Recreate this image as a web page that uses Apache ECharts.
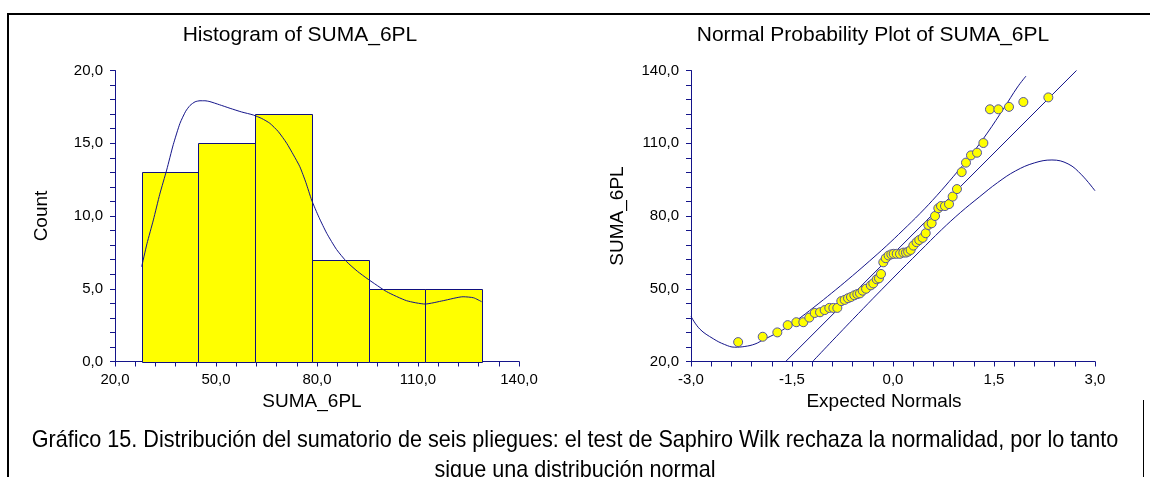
<!DOCTYPE html>
<html>
<head>
<meta charset="utf-8">
<script src="https://cdn.jsdelivr.net/npm/echarts@6/dist/echarts.min.js"></script>
<style>
  html, body { margin: 0; padding: 0; background: #ffffff; }
  #chart { width: 1150px; height: 477px; }
</style>
</head>
<body>
<div id="chart"></div>
<script>
// Histogram of SUMA_6PL: bin edges and counts
const histBinEdges = [27.93, 44.74, 61.58, 78.50, 95.35, 112.16, 129.00];
const histCounts = [13, 15, 17, 7, 5, 5];

// Smoothed density overlay, scaled to counts
const densityX = [27.93, 29.5, 31.4, 33.3, 35.35, 37.3, 39.3, 41.0, 42.3, 43.8, 45.25, 46.7, 48.2, 51.0, 54.2, 57.6, 61.1, 63.6, 66.0, 68.5, 71.0, 73.0, 74.9, 76.7, 78.4, 80.6, 82.9, 85.8, 88.8, 92.0, 95.2, 100.7, 106.6, 112.1, 117.5, 123.4, 126.5, 128.9];
const densityY = [6.52, 8.1, 9.73, 11.5, 13.16, 14.9, 16.37, 17.2, 17.6, 17.85, 17.92, 17.92, 17.86, 17.65, 17.4, 17.15, 16.94, 16.7, 16.37, 15.8, 15.0, 14.2, 13.39, 12.3, 11.1, 9.9, 8.81, 7.7, 6.86, 6.2, 5.65, 4.8, 4.18, 3.95, 4.18, 4.45, 4.38, 4.11];

// Normal probability plot: expected normal scores and sorted SUMA_6PL values
const expectedNormals = [
  -2.300, -1.935, -1.718, -1.564, -1.436, -1.332, -1.243, -1.163, -1.084, -1.015,
  -0.946, -0.886, -0.827, -0.768, -0.718, -0.668, -0.624, -0.574, -0.530, -0.490,
  -0.450, -0.400, -0.330, -0.293, -0.242, -0.208, -0.178, -0.144, -0.108, -0.065,
  -0.025, 0.010, 0.055, 0.104, 0.153, 0.193, 0.225, 0.262, 0.302, 0.350,
  0.390, 0.440, 0.486, 0.525, 0.574, 0.624, 0.673, 0.713, 0.772, 0.832,
  0.886, 0.950, 1.020, 1.084, 1.158, 1.248, 1.342, 1.440, 1.565, 1.723,
  1.936, 2.307
];
const sumaValues = [
  28.0, 30.2, 32.0, 35.0, 36.2, 36.2, 38.1, 40.0, 40.3, 41.2,
  42.1, 42.1, 42.1, 44.9, 45.4, 46.1, 46.6, 47.3, 47.8, 48.1,
  49.2, 50.0, 51.4, 52.2, 53.9, 54.3, 56.1, 60.9, 62.6, 63.7,
  64.2, 64.4, 64.4, 64.4, 64.9, 64.9, 65.3, 66.0, 67.8, 69.2,
  70.1, 71.0, 72.9, 76.3, 77.0, 80.0, 83.2, 84.1, 84.1, 84.9,
  88.0, 91.1, 98.1, 102.0, 105.0, 106.1, 110.1, 124.0, 124.0, 125.0,
  127.0, 128.9
];

// Reference line and confidence band curves
const refLineX = [-1.594, 2.725];
const refLineY = [20.0, 140.0];
const upperBandX = [-3.0, -2.87, -2.67, -2.5, -2.35, -2.2, -2.05, -1.93, -1.72, -1.56, -1.38, -1.1, -0.85, -0.6, -0.35, -0.1, 0.15, 0.4, 0.65, 0.9, 1.15, 1.4, 1.65, 1.85, 1.975];
const upperBandY = [38.6, 33.4, 29.4, 27.0, 25.9, 26.2, 27.2, 28.9, 31.8, 34.4, 38.0, 44.0, 49.6, 55.4, 61.4, 67.6, 74.2, 81.0, 88.4, 96.4, 104.8, 114.2, 124.6, 133.2, 137.7];
const lowerBandX = [-1.193, -0.6, 0.0, 0.4, 0.72, 1.0, 1.28, 1.55, 1.82, 2.1, 2.36, 2.6, 2.8, 3.0];
const lowerBandY = [20.0, 37.3, 54.4, 65.5, 74.3, 81.4, 87.8, 93.7, 98.6, 101.9, 103.1, 101.5, 97.0, 90.4];

// Axis ranges [min, max, interval]
const histXRange = [20, 140, 30];
const histYRange = [0, 20, 5];
const qqXRange = [-3, 3, 1.5];
const qqYRange = [20, 140, 30];

const titles = ['Histogram of SUMA_6PL', 'Normal Probability Plot of SUMA_6PL'];
const captionLines = [
  'Gráfico 15. Distribución del sumatorio de seis pliegues: el test de Saphiro Wilk rechaza la normalidad, por lo tanto',
  'sigue una distribución normal'
];

const zip = (xs, ys) => xs.map((x, i) => [x, ys[i]]);
const fmt = v => v.toFixed(1).replace('.', ',');

const NAVY = '#14148a';
const FONT = '"Liberation Sans", Arial, sans-serif';

function makeAxis(range, name, gridIndex, isY, namePadding) {
  return {
    type: 'value',
    gridIndex: gridIndex,
    min: range[0], max: range[1], interval: range[2],
    name: name,
    nameLocation: 'middle',
    nameGap: isY ? 64 : 23,
    nameTextStyle: { color: '#000', fontSize: 19, fontFamily: FONT, padding: namePadding || 0 },
    axisLine: { show: true, onZero: false, lineStyle: { color: NAVY, width: 1 } },
    axisTick: { show: true, length: 5, lineStyle: { color: NAVY, width: 1 } },
    minorTick: { show: true, splitNumber: 5, length: 5, lineStyle: { color: NAVY, width: 1 } },
    splitLine: { show: false },
    minorSplitLine: { show: false },
    axisLabel: { color: '#000', fontSize: 15, fontFamily: FONT, margin: isY ? 12 : 11, formatter: fmt, showMinLabel: true, showMaxLabel: true }
  };
}

const chart = echarts.init(document.getElementById('chart'), null, { renderer: 'canvas' });

const captionFont = '24px "Liberation Sans", Arial, sans-serif';

const option = {
  backgroundColor: '#ffffff',
  animation: false,
  grid: [
    { left: 115, top: 70.5, width: 404, height: 291 },
    { left: 691, top: 70.5, width: 404, height: 291 }
  ],
  xAxis: [
    makeAxis(histXRange, 'SUMA_6PL', 0, false, [0, 10, 0, 0]),
    makeAxis(qqXRange, 'Expected Normals', 1, false, [0, 18, 0, 0])
  ],
  yAxis: [
    makeAxis(histYRange, 'Count', 0, true),
    makeAxis(qqYRange, 'SUMA_6PL', 1, true)
  ],
  series: [
    {
      type: 'custom',
      xAxisIndex: 0, yAxisIndex: 0,
      data: histCounts.map((c, i) => [histBinEdges[i], histBinEdges[i + 1], c]),
      encode: { x: [0, 1], y: 2 },
      renderItem: function (params, api) {
        const p0 = api.coord([api.value(0), api.value(2)]);
        const p1 = api.coord([api.value(1), 0]);
        return {
          type: 'rect',
          shape: { x: Math.round(p0[0]) + 0.5, y: Math.round(p0[1]) + 0.5, width: Math.round(p1[0]) - Math.round(p0[0]), height: Math.round(p1[1]) - Math.round(p0[1]) },
          style: { fill: '#ffff00', stroke: '#10107f', lineWidth: 1 }
        };
      },
      z: 2
    },
    {
      type: 'line',
      xAxisIndex: 0, yAxisIndex: 0,
      data: zip(densityX, densityY),
      smooth: 0.2,
      showSymbol: false,
      lineStyle: { color: NAVY, width: 1 },
      z: 3
    },
    {
      type: 'line',
      xAxisIndex: 1, yAxisIndex: 1,
      data: zip(refLineX, refLineY),
      showSymbol: false,
      lineStyle: { color: NAVY, width: 1 },
      z: 2
    },
    {
      type: 'line',
      xAxisIndex: 1, yAxisIndex: 1,
      data: zip(upperBandX, upperBandY),
      smooth: 0.4,
      showSymbol: false,
      lineStyle: { color: NAVY, width: 1 },
      z: 2
    },
    {
      type: 'line',
      xAxisIndex: 1, yAxisIndex: 1,
      data: zip(lowerBandX, lowerBandY),
      smooth: 0.4,
      showSymbol: false,
      lineStyle: { color: NAVY, width: 1 },
      z: 2
    },
    {
      type: 'scatter',
      xAxisIndex: 1, yAxisIndex: 1,
      data: zip(expectedNormals, sumaValues),
      symbol: 'circle',
      symbolSize: 9,
      itemStyle: { color: '#ffff00', borderColor: '#5656a0', borderWidth: 1, opacity: 1 },
      z: 5
    }
  ],
  graphic: [
    { type: 'line', shape: { x1: 7, y1: 14, x2: 1150, y2: 14 }, style: { stroke: '#000', lineWidth: 2 } },
    { type: 'line', shape: { x1: 8, y1: 13, x2: 8, y2: 477 }, style: { stroke: '#000', lineWidth: 2 } },
    { type: 'line', shape: { x1: 1143.5, y1: 400, x2: 1143.5, y2: 477 }, style: { stroke: '#000', lineWidth: 1 } },
    { type: 'text', x: 300, y: 35, style: { text: titles[0], font: '21px ' + FONT, fill: '#000', align: 'center', verticalAlign: 'middle' } },
    { type: 'text', x: 873, y: 35, style: { text: titles[1], font: '21px ' + FONT, fill: '#000', align: 'center', verticalAlign: 'middle' } },
    { type: 'text', x: 575, y: 440, scaleX: 0.9, style: { text: captionLines[0], font: captionFont, fill: '#000', align: 'center', verticalAlign: 'middle' } },
    { type: 'text', x: 575, y: 470, scaleX: 0.9, style: { text: captionLines[1], font: captionFont, fill: '#000', align: 'center', verticalAlign: 'middle' } }
  ]
};

chart.setOption(option);
</script>
</body>
</html>
